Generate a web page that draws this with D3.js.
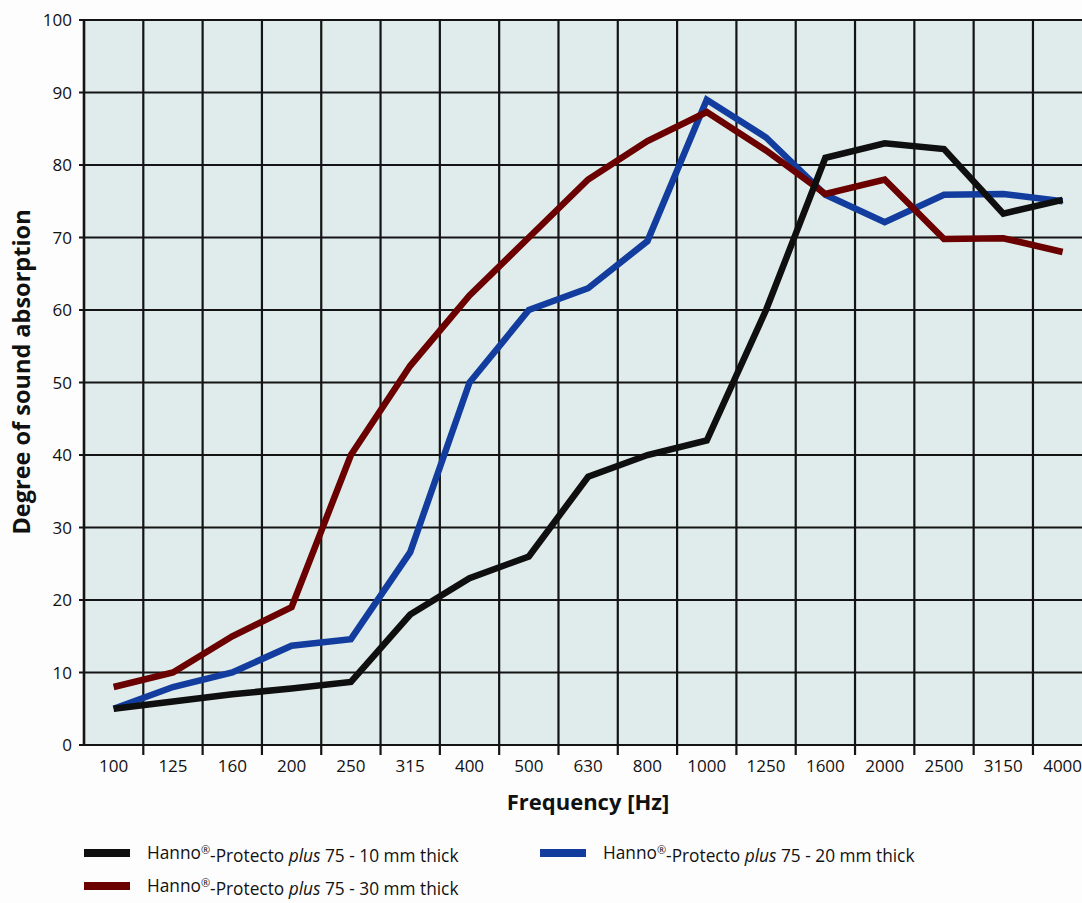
<!DOCTYPE html>
<html>
<head>
<meta charset="utf-8">
<script src="https://cdn.jsdelivr.net/npm/d3@7"></script>
<style>
  html, body { margin: 0; padding: 0; background: #fdfdfd; }
  svg { display: block; font-family: 'Open Sans', 'Noto Sans', sans-serif; }
</style>
</head>
<body>
<div id="chart"></div>
<script>
// Frequency bands (Hz), one band per column.
const frequencies = ['100', '125', '160', '200', '250', '315', '400', '500', '630',
  '800', '1000', '1250', '1600', '2000', '2500', '3150', '4000'];

// Degree of sound absorption.
const thick10 = [5, 6, 7, 7.8, 8.7, 18, 23, 26, 37, 40, 42, 60, 81, 83, 82.2, 73.3, 75.2];
const thick20 = [5, 8, 10, 13.7, 14.6, 26.6, 50, 60, 63, 69.5, 89, 83.8, 75.9, 72.1, 75.9, 76, 75];
const thick30 = [8, 10, 15, 19, 40, 52.3, 62, 70, 78, 83.3, 87.3, 82, 76, 78, 69.8, 69.9, 68];

const yTicks = [0, 10, 20, 30, 40, 50, 60, 70, 80, 90, 100];

const seriesList = [
  { key: '20', values: thick20, colour: '#123d9e' },
  { key: '30', values: thick30, colour: '#6a0000' },
  { key: '10', values: thick10, colour: '#0f0f0f' },
];

const width = 1082;
const height = 903;
const plot = { left: 84, top: 20, bottom: 745, band: 59.31 };

const svg = d3.select('#chart')
  .append('svg')
  .attr('width', width)
  .attr('height', height);

const x = d3.scaleBand()
  .domain(frequencies)
  .range([plot.left, plot.left + plot.band * frequencies.length])
  .padding(0);

const y = d3.scaleLinear()
  .domain([0, 100])
  .range([plot.bottom, plot.top]);

const xMid = f => x(f) + x.bandwidth() / 2;
const plotRight = x.range()[1];

// Plot background
svg.append('rect')
  .attr('x', plot.left)
  .attr('y', plot.top)
  .attr('width', plotRight - plot.left)
  .attr('height', plot.bottom - plot.top)
  .style('fill', '#dfeceb');

// Horizontal gridlines + y ticks
const grid = svg.append('g').style('stroke', '#141414').style('stroke-width', 2.2);

grid.selectAll('.hgrid')
  .data(yTicks)
  .join('line')
  .attr('class', 'hgrid')
  .attr('x1', plot.left - 5)
  .attr('x2', plotRight)
  .attr('y1', d => y(d))
  .attr('y2', d => y(d));

// Vertical gridlines between bands, with ticks hanging below the axis
grid.selectAll('.vgrid')
  .data(frequencies.slice(1))
  .join('line')
  .attr('class', 'vgrid')
  .attr('x1', d => x(d))
  .attr('x2', d => x(d))
  .attr('y1', plot.top)
  .attr('y2', plot.bottom + 10);

grid.append('line')
  .attr('x1', plot.left)
  .attr('x2', plot.left)
  .attr('y1', plot.top - 1)
  .attr('y2', plot.bottom + 1)
  .style('stroke-width', 2.6);

// Tick labels
svg.append('g')
  .selectAll('text')
  .data(yTicks)
  .join('text')
  .attr('x', plot.left - 12)
  .attr('y', d => y(d))
  .attr('dy', '0.36em')
  .attr('text-anchor', 'end')
  .style('font-size', '17px')
  .style('fill', '#111')
  .text(d => d);

svg.append('g')
  .selectAll('text')
  .data(frequencies)
  .join('text')
  .attr('x', d => xMid(d))
  .attr('y', plot.bottom + 27)
  .attr('text-anchor', 'middle')
  .style('font-size', '17px')
  .style('fill', '#111')
  .text(d => d);

// Axis titles
svg.append('text')
  .attr('x', 588)
  .attr('y', 810)
  .attr('text-anchor', 'middle')
  .style('font-size', '22px')
  .style('font-weight', 'bold')
  .style('fill', '#111')
  .text('Frequency [Hz]');

svg.append('text')
  .attr('transform', 'translate(30, 372) rotate(-90)')
  .attr('text-anchor', 'middle')
  .style('font-size', '23.5px')
  .style('font-weight', 'bold')
  .style('fill', '#111')
  .text('Degree of sound absorption');

// Series lines
const line = d3.line()
  .x((d, i) => xMid(frequencies[i]))
  .y(d => y(d));

svg.append('g')
  .selectAll('path')
  .data(seriesList)
  .join('path')
  .attr('d', s => line(s.values))
  .style('fill', 'none')
  .style('stroke', s => s.colour)
  .style('stroke-width', 6.5)
  .style('stroke-linejoin', 'miter');

// Legend
const legendItems = [
  { label: '10', colour: '#0f0f0f', x: 84, y: 853 },
  { label: '20', colour: '#123d9e', x: 540, y: 853 },
  { label: '30', colour: '#6a0000', x: 84, y: 886 },
];

const legend = svg.append('g')
  .selectAll('g')
  .data(legendItems)
  .join('g')
  .attr('transform', d => `translate(${d.x}, ${d.y})`);

legend.append('rect')
  .attr('x', 0)
  .attr('y', -4)
  .attr('width', 46)
  .attr('height', 8)
  .style('fill', d => d.colour);

const legendText = legend.append('text')
  .attr('x', 63)
  .attr('y', 0)
  .attr('dy', '0.36em')
  .style('font-size', '17.3px')
  .style('fill', '#111');

legendText.append('tspan').text('Hanno');
legendText.append('tspan').attr('dy', '-0.45em').style('font-size', '11px').text('®');
legendText.append('tspan').attr('dy', '0.45em').text('-Protecto ');
legendText.append('tspan').style('font-style', 'italic').text('plus');
legendText.append('tspan').text(d => ` 75 - ${d.label} mm thick`);
</script>
</body>
</html>
